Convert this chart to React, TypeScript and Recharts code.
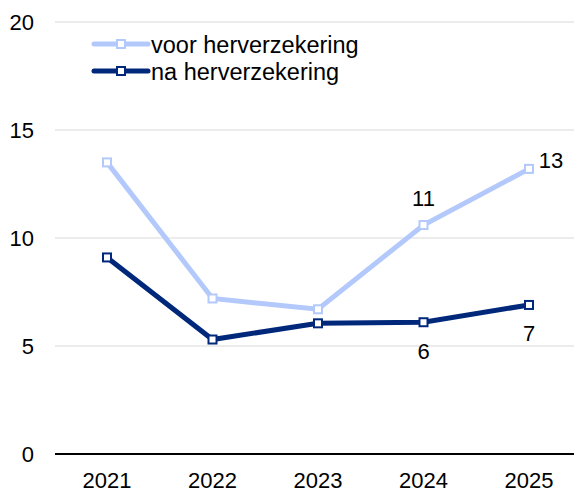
import { LineChart, Line, XAxis, YAxis, CartesianGrid, LabelList } from 'recharts'

const years = ['2021', '2022', '2023', '2024', '2025']
const voor = [13.5, 7.2, 6.7, 10.6, 13.2]
const na = [9.1, 5.3, 6.05, 6.1, 6.9]
const voorLabels = ['', '', '', '11', '13']
const naLabels = ['', '', '', '6', '7']
const yTicks = [0, 5, 10, 15, 20]

const LIGHT = '#B3C9FB'
const DARK = '#00287A'
const FONT = 'Arial, "Liberation Sans", sans-serif'

const data = years.map((y, i) => ({ year: y, voor: voor[i], na: na[i] }))

const squareDot = (color: string) => (p: any) => {
  if (p.cx == null || p.cy == null) return <g key={p.index} />
  return <rect key={p.index} x={p.cx - 4} y={p.cy - 4} width={8} height={8} fill="#fff" stroke={color} strokeWidth={2} />
}

const labelRenderer = (labels: string[], place: 'above' | 'below') => (p: any) => {
  const t = labels[p.index]
  if (!t) return null
  let dx = 0
  let dy = place === 'above' ? -27 : 29
  // last light label sits to the right of the point
  if (place === 'above' && p.index === labels.length - 1) { dx = 22; dy = -8 }
  return (
    <text x={p.x + dx} y={p.y + dy} textAnchor="middle" dominantBaseline="central"
      fontSize={22} fontFamily={FONT} fill="#000">{t}</text>
  )
}

function LegendBox() {
  const items = [
    { name: 'voor herverzekering', color: LIGHT },
    { name: 'na herverzekering', color: DARK },
  ]
  return (
    <svg width={574} height={100} style={{ position: 'absolute', left: 0, top: 0, pointerEvents: 'none' }}>
      {items.map((it, i) => {
        const y = 44 + i * 27
        return (
          <g key={it.name}>
            <line x1={94} x2={148} y1={y} y2={y} stroke={it.color} strokeWidth={5} strokeLinecap="round" />
            <rect x={117} y={y - 4} width={8} height={8} fill="#fff" stroke={it.color} strokeWidth={2} />
            <text x={151} y={y + 1} dominantBaseline="central" fontSize={23.5} fontFamily={FONT} fill="#000">{it.name}</text>
          </g>
        )
      })}
    </svg>
  )
}

export default function App() {
  return (
    <div style={{ position: 'absolute', left: 0, top: 0, width: 574, height: 491, overflow: 'hidden', background: '#fff' }}>
      <LineChart width={581} height={491} data={data} margin={{ top: 22, right: 0, left: 0, bottom: 0 }}>
        <CartesianGrid vertical={false} stroke="#d9d9d9" strokeWidth={1} />
        <XAxis dataKey="year" height={37} tickLine={false} axisLine={{ stroke: '#000', strokeWidth: 2 }}
          padding={{ left: 52, right: 52 }}
          tick={{ fontSize: 22, fontFamily: FONT, fill: '#000' }} tickMargin={12} />
        <YAxis domain={[0, 20]} ticks={yTicks} width={55} axisLine={false} tickLine={false}
          tick={{ fontSize: 22, fontFamily: FONT, fill: '#000' }} tickMargin={15} />
        <Line type="linear" dataKey="voor" name="voor herverzekering" stroke={LIGHT} strokeWidth={5}
          dot={squareDot(LIGHT)} activeDot={false} isAnimationActive={false}>
          <LabelList dataKey="voor" content={labelRenderer(voorLabels, 'above')} />
        </Line>
        <Line type="linear" dataKey="na" name="na herverzekering" stroke={DARK} strokeWidth={5}
          dot={squareDot(DARK)} activeDot={false} isAnimationActive={false}>
          <LabelList dataKey="na" content={labelRenderer(naLabels, 'below')} />
        </Line>
      </LineChart>
      <LegendBox />
    </div>
  )
}
